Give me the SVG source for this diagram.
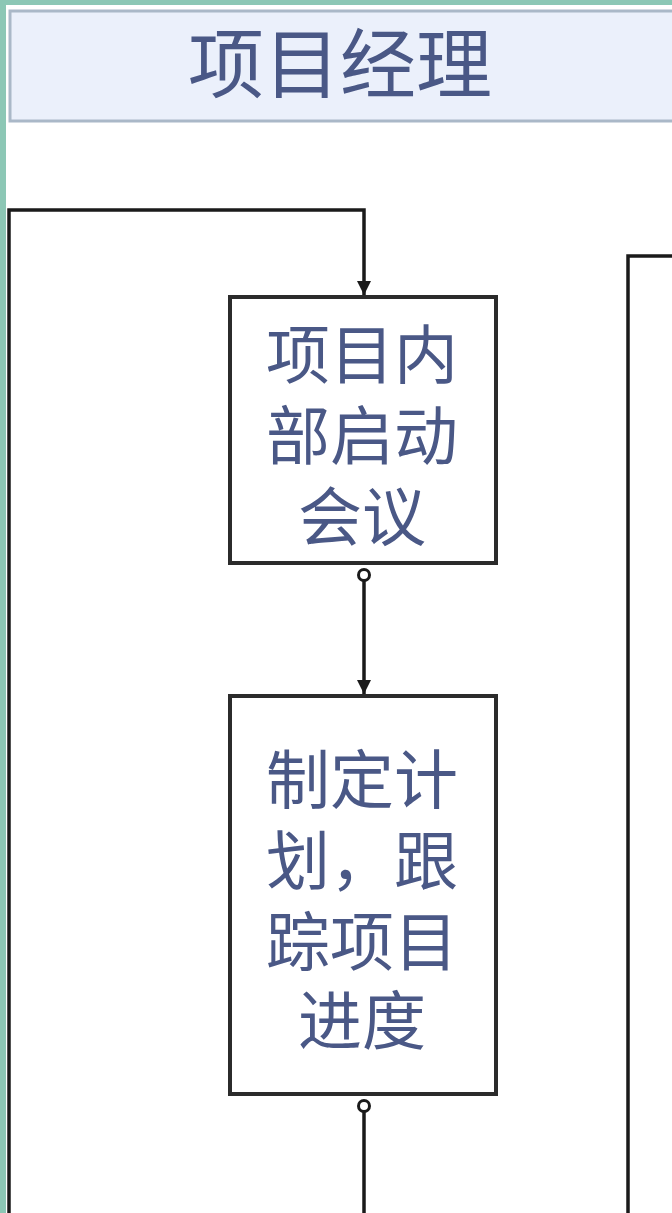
<svg xmlns="http://www.w3.org/2000/svg" width="672" height="1213" viewBox="0 0 672 1213">
<style>
.lane{fill:#8cc7b5}
.hdr{fill:#ebf0fb;stroke:#aab8c8;stroke-width:3}
.box{fill:#ffffff;stroke:#2b2b2b;stroke-width:4}
.t{font-family:"Noto Sans CJK SC","Noto Sans",sans-serif;fill:#4a5886;text-anchor:middle}
.conn{fill:none;stroke:#1a1a1a;stroke-width:3.5}
.dot{fill:#ffffff;stroke:#1a1a1a;stroke-width:3}
</style>
<defs>
<marker id="arr" viewBox="0 0 10 10" refX="10" refY="5" markerWidth="4.5" markerHeight="4" orient="auto" markerUnits="strokeWidth">
<path d="M0,0 L10,5 L0,10 Z" fill="#1a1a1a"/>
</marker>
</defs>
<rect width="672" height="1213" fill="#ffffff"/>
<g id="lane">
<rect class="lane" x="0" y="0" width="6" height="1213"/>
<rect class="lane" x="0" y="0" width="672" height="5"/>
<rect class="hdr" x="10" y="11" width="668" height="110"/>
<text class="t" x="340" y="92" font-size="76">项目经理</text>
</g>
<g id="connectors">
<polyline class="conn" points="9,1213 9,210 364,210 364,295" marker-end="url(#arr)"/>
<line class="conn" x1="364" y1="581" x2="364" y2="694" marker-end="url(#arr)"/>
<line class="conn" x1="364" y1="1112" x2="364" y2="1213"/>
<polyline class="conn" points="628,1213 628,256 672,256"/>
<circle class="dot" cx="364" cy="575" r="5.5"/>
<circle class="dot" cx="364" cy="1106" r="5.5"/>
</g>
<g id="node1">
<rect class="box" x="230" y="297" width="266" height="266"/>
<text class="t" font-size="64"><tspan x="362" y="378">项目内</tspan><tspan x="362" y="459">部启动</tspan><tspan x="362" y="540">会议</tspan></text>
</g>
<g id="node2">
<rect class="box" x="230" y="696" width="266" height="398"/>
<text class="t" font-size="64"><tspan x="362" y="803">制定计</tspan><tspan x="362" y="884">划，跟</tspan><tspan x="362" y="965">踪项目</tspan><tspan x="362" y="1044">进度</tspan></text>
</g>
</svg>
